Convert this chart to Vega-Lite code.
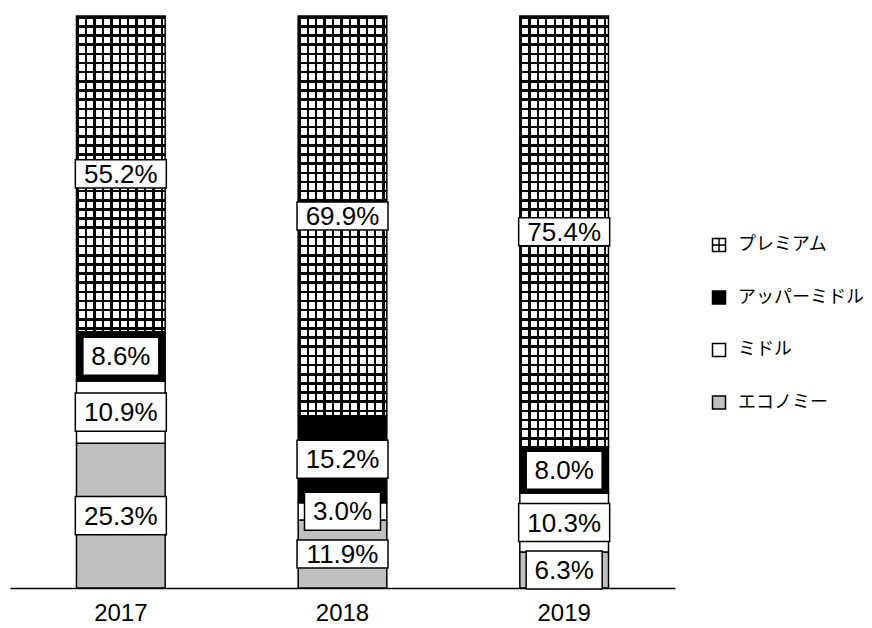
{
"$schema": "https://vega.github.io/schema/vega-lite/v6.json",
"width": 665,
"height": 572,
"autosize": {"type": "none"},
"padding": {"left": 10, "top": 16, "right": 197, "bottom": 40},
"background": "white",
"config": {"view": {"stroke": null}, "font": "Liberation Sans"},
"data": {"values": [
{"year": "2017", "cat": "エコノミー", "v": 25.3, "ord": 1, "lab": "25.3%"},
{"year": "2017", "cat": "ミドル", "v": 10.9, "ord": 2, "lab": "10.9%"},
{"year": "2017", "cat": "アッパーミドル", "v": 8.6, "ord": 3, "lab": "8.6%"},
{"year": "2017", "cat": "プレミアム", "v": 55.2, "ord": 4, "lab": "55.2%"},
{"year": "2018", "cat": "エコノミー", "v": 11.9, "ord": 1, "lab": "11.9%"},
{"year": "2018", "cat": "ミドル", "v": 3.0, "ord": 2, "lab": "3.0%"},
{"year": "2018", "cat": "アッパーミドル", "v": 15.2, "ord": 3, "lab": "15.2%"},
{"year": "2018", "cat": "プレミアム", "v": 69.9, "ord": 4, "lab": "69.9%"},
{"year": "2019", "cat": "エコノミー", "v": 6.3, "ord": 1, "lab": "6.3%"},
{"year": "2019", "cat": "ミドル", "v": 10.3, "ord": 2, "lab": "10.3%"},
{"year": "2019", "cat": "アッパーミドル", "v": 8.0, "ord": 3, "lab": "8.0%"},
{"year": "2019", "cat": "プレミアム", "v": 75.4, "ord": 4, "lab": "75.4%"}
]},
"encoding": {
"x": {"field": "year", "type": "nominal", "scale": {"paddingInner": 0.6, "paddingOuter": 0.3},
"axis": {"title": null, "labelAngle": 0, "labelFontSize": 24, "labelFont": "Liberation Sans", "labelColor": "black", "ticks": false, "labelPadding": 13, "domainColor": "black", "domainWidth": 1.5, "grid": false}}
},
"layer": [
{"mark": {"type": "bar", "fill": "white", "strokeWidth": 0},
"encoding": {"y": {"aggregate": "sum", "field": "v", "type": "quantitative", "scale": {"domain": [0, 100], "nice": false}, "axis": null}}},
{"mark": {"type": "bar", "strokeWidth": 0, "fill": {"gradient": "linear", "x1": 0, "y1": 0, "x2": 0, "y2": 1, "stops": [
{"offset":0,"color":"black"},{"offset":0.0045,"color":"black"},{"offset":0.0045,"color":"transparent"},{"offset":0.016,"color":"transparent"},
{"offset":0.016,"color":"black"},{"offset":0.0205,"color":"black"},{"offset":0.0205,"color":"transparent"},{"offset":0.032,"color":"transparent"},
{"offset":0.032,"color":"black"},{"offset":0.0365,"color":"black"},{"offset":0.0365,"color":"transparent"},{"offset":0.048,"color":"transparent"},
{"offset":0.048,"color":"black"},{"offset":0.0525,"color":"black"},{"offset":0.0525,"color":"transparent"},{"offset":0.064,"color":"transparent"},
{"offset":0.064,"color":"black"},{"offset":0.0685,"color":"black"},{"offset":0.0685,"color":"transparent"},{"offset":0.08,"color":"transparent"},
{"offset":0.08,"color":"black"},{"offset":0.0845,"color":"black"},{"offset":0.0845,"color":"transparent"},{"offset":0.096,"color":"transparent"},
{"offset":0.096,"color":"black"},{"offset":0.1005,"color":"black"},{"offset":0.1005,"color":"transparent"},{"offset":0.112,"color":"transparent"},
{"offset":0.112,"color":"black"},{"offset":0.1165,"color":"black"},{"offset":0.1165,"color":"transparent"},{"offset":0.128,"color":"transparent"},
{"offset":0.128,"color":"black"},{"offset":0.1325,"color":"black"},{"offset":0.1325,"color":"transparent"},{"offset":0.144,"color":"transparent"},
{"offset":0.144,"color":"black"},{"offset":0.1485,"color":"black"},{"offset":0.1485,"color":"transparent"},{"offset":0.16,"color":"transparent"},
{"offset":0.16,"color":"black"},{"offset":0.1645,"color":"black"},{"offset":0.1645,"color":"transparent"},{"offset":0.176,"color":"transparent"},
{"offset":0.176,"color":"black"},{"offset":0.1805,"color":"black"},{"offset":0.1805,"color":"transparent"},{"offset":0.192,"color":"transparent"},
{"offset":0.192,"color":"black"},{"offset":0.1965,"color":"black"},{"offset":0.1965,"color":"transparent"},{"offset":0.208,"color":"transparent"},
{"offset":0.208,"color":"black"},{"offset":0.2125,"color":"black"},{"offset":0.2125,"color":"transparent"},{"offset":0.224,"color":"transparent"},
{"offset":0.224,"color":"black"},{"offset":0.2285,"color":"black"},{"offset":0.2285,"color":"transparent"},{"offset":0.24,"color":"transparent"},
{"offset":0.24,"color":"black"},{"offset":0.2445,"color":"black"},{"offset":0.2445,"color":"transparent"},{"offset":0.256,"color":"transparent"},
{"offset":0.256,"color":"black"},{"offset":0.2605,"color":"black"},{"offset":0.2605,"color":"transparent"},{"offset":0.272,"color":"transparent"},
{"offset":0.272,"color":"black"},{"offset":0.2765,"color":"black"},{"offset":0.2765,"color":"transparent"},{"offset":0.288,"color":"transparent"},
{"offset":0.288,"color":"black"},{"offset":0.2925,"color":"black"},{"offset":0.2925,"color":"transparent"},{"offset":0.304,"color":"transparent"},
{"offset":0.304,"color":"black"},{"offset":0.3085,"color":"black"},{"offset":0.3085,"color":"transparent"},{"offset":0.32,"color":"transparent"},
{"offset":0.32,"color":"black"},{"offset":0.3245,"color":"black"},{"offset":0.3245,"color":"transparent"},{"offset":0.336,"color":"transparent"},
{"offset":0.336,"color":"black"},{"offset":0.3405,"color":"black"},{"offset":0.3405,"color":"transparent"},{"offset":0.352,"color":"transparent"},
{"offset":0.352,"color":"black"},{"offset":0.3565,"color":"black"},{"offset":0.3565,"color":"transparent"},{"offset":0.368,"color":"transparent"},
{"offset":0.368,"color":"black"},{"offset":0.3725,"color":"black"},{"offset":0.3725,"color":"transparent"},{"offset":0.384,"color":"transparent"},
{"offset":0.384,"color":"black"},{"offset":0.3885,"color":"black"},{"offset":0.3885,"color":"transparent"},{"offset":0.4,"color":"transparent"},
{"offset":0.4,"color":"black"},{"offset":0.4045,"color":"black"},{"offset":0.4045,"color":"transparent"},{"offset":0.416,"color":"transparent"},
{"offset":0.416,"color":"black"},{"offset":0.4205,"color":"black"},{"offset":0.4205,"color":"transparent"},{"offset":0.432,"color":"transparent"},
{"offset":0.432,"color":"black"},{"offset":0.4365,"color":"black"},{"offset":0.4365,"color":"transparent"},{"offset":0.448,"color":"transparent"},
{"offset":0.448,"color":"black"},{"offset":0.4525,"color":"black"},{"offset":0.4525,"color":"transparent"},{"offset":0.464,"color":"transparent"},
{"offset":0.464,"color":"black"},{"offset":0.4685,"color":"black"},{"offset":0.4685,"color":"transparent"},{"offset":0.48,"color":"transparent"},
{"offset":0.48,"color":"black"},{"offset":0.4845,"color":"black"},{"offset":0.4845,"color":"transparent"},{"offset":0.496,"color":"transparent"},
{"offset":0.496,"color":"black"},{"offset":0.5005,"color":"black"},{"offset":0.5005,"color":"transparent"},{"offset":0.512,"color":"transparent"},
{"offset":0.512,"color":"black"},{"offset":0.5165,"color":"black"},{"offset":0.5165,"color":"transparent"},{"offset":0.528,"color":"transparent"},
{"offset":0.528,"color":"black"},{"offset":0.5325,"color":"black"},{"offset":0.5325,"color":"transparent"},{"offset":0.544,"color":"transparent"},
{"offset":0.544,"color":"black"},{"offset":0.5485,"color":"black"},{"offset":0.5485,"color":"transparent"},{"offset":0.56,"color":"transparent"},
{"offset":0.56,"color":"black"},{"offset":0.5645,"color":"black"},{"offset":0.5645,"color":"transparent"},{"offset":0.576,"color":"transparent"},
{"offset":0.576,"color":"black"},{"offset":0.5805,"color":"black"},{"offset":0.5805,"color":"transparent"},{"offset":0.592,"color":"transparent"},
{"offset":0.592,"color":"black"},{"offset":0.5965,"color":"black"},{"offset":0.5965,"color":"transparent"},{"offset":0.608,"color":"transparent"},
{"offset":0.608,"color":"black"},{"offset":0.6125,"color":"black"},{"offset":0.6125,"color":"transparent"},{"offset":0.624,"color":"transparent"},
{"offset":0.624,"color":"black"},{"offset":0.6285,"color":"black"},{"offset":0.6285,"color":"transparent"},{"offset":0.64,"color":"transparent"},
{"offset":0.64,"color":"black"},{"offset":0.6445,"color":"black"},{"offset":0.6445,"color":"transparent"},{"offset":0.656,"color":"transparent"},
{"offset":0.656,"color":"black"},{"offset":0.6605,"color":"black"},{"offset":0.6605,"color":"transparent"},{"offset":0.672,"color":"transparent"},
{"offset":0.672,"color":"black"},{"offset":0.6765,"color":"black"},{"offset":0.6765,"color":"transparent"},{"offset":0.688,"color":"transparent"},
{"offset":0.688,"color":"black"},{"offset":0.6925,"color":"black"},{"offset":0.6925,"color":"transparent"},{"offset":0.704,"color":"transparent"},
{"offset":0.704,"color":"black"},{"offset":0.7085,"color":"black"},{"offset":0.7085,"color":"transparent"},{"offset":0.72,"color":"transparent"},
{"offset":0.72,"color":"black"},{"offset":0.7245,"color":"black"},{"offset":0.7245,"color":"transparent"},{"offset":0.736,"color":"transparent"},
{"offset":0.736,"color":"black"},{"offset":0.7405,"color":"black"},{"offset":0.7405,"color":"transparent"},{"offset":0.752,"color":"transparent"},
{"offset":0.752,"color":"black"},{"offset":0.7565,"color":"black"},{"offset":0.7565,"color":"transparent"},{"offset":0.768,"color":"transparent"},
{"offset":0.768,"color":"black"},{"offset":0.7725,"color":"black"},{"offset":0.7725,"color":"transparent"},{"offset":0.784,"color":"transparent"},
{"offset":0.784,"color":"black"},{"offset":0.7885,"color":"black"},{"offset":0.7885,"color":"transparent"},{"offset":0.8,"color":"transparent"},
{"offset":0.8,"color":"black"},{"offset":0.8045,"color":"black"},{"offset":0.8045,"color":"transparent"},{"offset":0.816,"color":"transparent"},
{"offset":0.816,"color":"black"},{"offset":0.8205,"color":"black"},{"offset":0.8205,"color":"transparent"},{"offset":0.832,"color":"transparent"},
{"offset":0.832,"color":"black"},{"offset":0.8365,"color":"black"},{"offset":0.8365,"color":"transparent"},{"offset":0.848,"color":"transparent"},
{"offset":0.848,"color":"black"},{"offset":0.8525,"color":"black"},{"offset":0.8525,"color":"transparent"},{"offset":0.864,"color":"transparent"},
{"offset":0.864,"color":"black"},{"offset":0.8685,"color":"black"},{"offset":0.8685,"color":"transparent"},{"offset":0.88,"color":"transparent"},
{"offset":0.88,"color":"black"},{"offset":0.8845,"color":"black"},{"offset":0.8845,"color":"transparent"},{"offset":0.896,"color":"transparent"},
{"offset":0.896,"color":"black"},{"offset":0.9005,"color":"black"},{"offset":0.9005,"color":"transparent"},{"offset":0.912,"color":"transparent"},
{"offset":0.912,"color":"black"},{"offset":0.9165,"color":"black"},{"offset":0.9165,"color":"transparent"},{"offset":0.928,"color":"transparent"},
{"offset":0.928,"color":"black"},{"offset":0.9325,"color":"black"},{"offset":0.9325,"color":"transparent"},{"offset":0.944,"color":"transparent"},
{"offset":0.944,"color":"black"},{"offset":0.9485,"color":"black"},{"offset":0.9485,"color":"transparent"},{"offset":0.96,"color":"transparent"},
{"offset":0.96,"color":"black"},{"offset":0.9645,"color":"black"},{"offset":0.9645,"color":"transparent"},{"offset":0.976,"color":"transparent"},
{"offset":0.976,"color":"black"},{"offset":0.9805,"color":"black"},{"offset":0.9805,"color":"transparent"},{"offset":0.992,"color":"transparent"},
{"offset":0.992,"color":"black"},{"offset":0.9965,"color":"black"},{"offset":0.9965,"color":"transparent"},{"offset":1,"color":"transparent"}
]}},
"encoding": {"y": {"aggregate": "sum", "field": "v", "type": "quantitative", "scale": {"domain": [0, 100], "nice": false}, "axis": null}}},
{"mark": {"type": "bar", "strokeWidth": 0, "fill": {"gradient": "linear", "x1": 0, "y1": 0, "x2": 1, "y2": 0, "stops": [
{"offset":0,"color":"black"},{"offset":0.027,"color":"black"},{"offset":0.027,"color":"transparent"},{"offset":0.095,"color":"transparent"},
{"offset":0.095,"color":"black"},{"offset":0.122,"color":"black"},{"offset":0.122,"color":"transparent"},{"offset":0.19,"color":"transparent"},
{"offset":0.19,"color":"black"},{"offset":0.217,"color":"black"},{"offset":0.217,"color":"transparent"},{"offset":0.285,"color":"transparent"},
{"offset":0.285,"color":"black"},{"offset":0.312,"color":"black"},{"offset":0.312,"color":"transparent"},{"offset":0.38,"color":"transparent"},
{"offset":0.38,"color":"black"},{"offset":0.407,"color":"black"},{"offset":0.407,"color":"transparent"},{"offset":0.475,"color":"transparent"},
{"offset":0.475,"color":"black"},{"offset":0.502,"color":"black"},{"offset":0.502,"color":"transparent"},{"offset":0.57,"color":"transparent"},
{"offset":0.57,"color":"black"},{"offset":0.597,"color":"black"},{"offset":0.597,"color":"transparent"},{"offset":0.665,"color":"transparent"},
{"offset":0.665,"color":"black"},{"offset":0.692,"color":"black"},{"offset":0.692,"color":"transparent"},{"offset":0.76,"color":"transparent"},
{"offset":0.76,"color":"black"},{"offset":0.787,"color":"black"},{"offset":0.787,"color":"transparent"},{"offset":0.855,"color":"transparent"},
{"offset":0.855,"color":"black"},{"offset":0.882,"color":"black"},{"offset":0.882,"color":"transparent"},{"offset":0.95,"color":"transparent"},
{"offset":0.95,"color":"black"},{"offset":0.977,"color":"black"},{"offset":0.977,"color":"transparent"},{"offset":1,"color":"transparent"}
]}},
"encoding": {"y": {"aggregate": "sum", "field": "v", "type": "quantitative", "scale": {"domain": [0, 100], "nice": false}, "axis": null}}},
{"mark": {"type": "bar", "stroke": "black", "strokeWidth": 1.5},
"encoding": {
"y": {"field": "v", "type": "quantitative", "stack": "zero", "scale": {"domain": [0, 100], "nice": false}, "axis": null},
"detail": {"field": "cat"},
"order": {"field": "ord", "type": "quantitative"},
"fill": {"field": "cat", "type": "nominal",
"scale": {"domain": ["プレミアム", "アッパーミドル", "ミドル", "エコノミー"], "range": ["transparent", "black", "white", "#c0c0c0"]},
"legend": {"title": null, "orient": "none", "legendX": 700, "legendY": 220, "padding": 0,
"labelFont": "Noto Sans CJK JP", "labelFontSize": 18, "labelColor": "black", "labelOffset": 10,
"symbolType": "square", "symbolSize": 169, "symbolStrokeColor": "black", "symbolStrokeWidth": 1.5, "rowPadding": 32.5,
"encode": {"symbols": {"update": {"shape": {"signal": "datum.value === 'プレミアム' ? 'M-1,-1H1V1H-1ZM0,-1V1M-1,0H1' : 'square'"}, "size": {"value": 169}, "stroke": {"value": "black"}, "strokeWidth": {"value": 1.5}}}}}}
}},
{"mark": {"type": "point", "filled": true, "fill": "white", "stroke": "black", "strokeWidth": 1.5, "opacity": 1, "size": 8281},
"encoding": {
"y": {"field": "v", "type": "quantitative", "stack": "zero", "bandPosition": 0.5, "scale": {"domain": [0, 100], "nice": false}, "axis": null},
"detail": {"field": "cat"},
"order": {"field": "ord", "type": "quantitative"},
"shape": {"condition": [
{"test": "datum.v < 10", "value": "M-0.835,-0.418H0.835V0.418H-0.835Z"},
{"test": "datum.cat === 'プレミアム' || (datum.year === '2018' && datum.cat === 'エコノミー')", "value": "M-1,-0.308H1V0.308H-1Z"}
], "value": "M-1,-0.418H1V0.418H-1Z"}
}},
{"mark": {"type": "text", "font": "Liberation Sans", "fontSize": 26, "color": "black", "baseline": "middle", "dy": 1},
"encoding": {
"y": {"field": "v", "type": "quantitative", "stack": "zero", "bandPosition": 0.5, "scale": {"domain": [0, 100], "nice": false}, "axis": null},
"detail": {"field": "cat"},
"order": {"field": "ord", "type": "quantitative"},
"text": {"field": "lab"}
}}
]
}
